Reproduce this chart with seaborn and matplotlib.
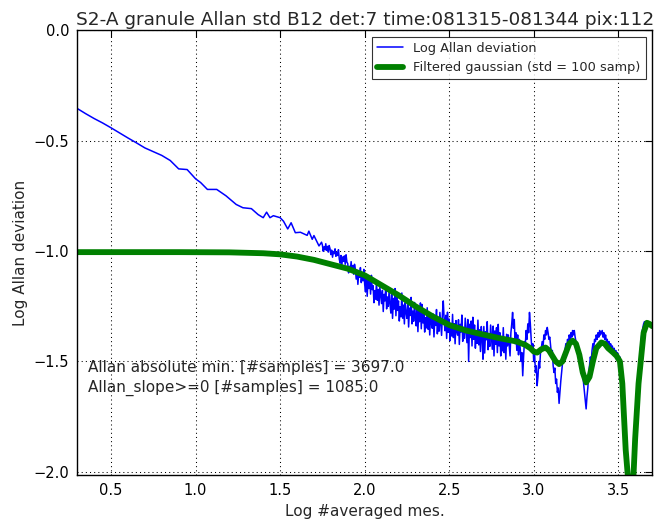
import numpy as np
import pandas as pd
import matplotlib
matplotlib.use("Agg")
import matplotlib.pyplot as plt
import seaborn as sns

# ---- data ----
# smooth (low-N) part of the Allan deviation
blue_x_smooth = [0.301, 0.35, 0.40, 0.45, 0.50, 0.55, 0.60, 0.65, 0.70, 0.75, 0.80, 0.85,
                 0.90, 0.95, 1.00, 1.03, 1.07, 1.125, 1.18, 1.24, 1.28, 1.33, 1.37, 1.40,
                 1.42, 1.44, 1.46, 1.50, 1.52, 1.545, 1.565, 1.59, 1.62, 1.66, 1.67, 1.69,
                 1.70, 1.73, 1.745]
blue_y_smooth = [-0.355, -0.378, -0.40, -0.42, -0.442, -0.465, -0.488, -0.51, -0.533, -0.55,
                 -0.567, -0.59, -0.628, -0.631, -0.673, -0.69, -0.721, -0.721, -0.75, -0.789,
                 -0.804, -0.808, -0.835, -0.849, -0.824, -0.849, -0.84, -0.849, -0.865, -0.90,
                 -0.872, -0.917, -0.915, -0.929, -0.91, -0.947, -0.93, -0.977, -0.96]

# noisy (high-N) part, sampled every 0.005 in log N starting at 1.75
noisy_start = 1.75
noisy_step = 0.005
blue_y_noisy = [
    -0.973, -1.001, -0.981, -0.995, -0.967, -0.997, -0.979, -1.005, -0.975, -0.989,
    -1.016, -0.996, -1.028, -1.002, -1.012, -0.990, -1.024, -1.006, -1.020, -0.994,
    -1.037, -1.055, -1.020, -1.065, -1.027, -1.047, -1.022, -1.060, -1.017, -1.050,
    -1.057, -1.099, -1.069, -1.090, -1.048, -1.093, -1.066, -1.105, -1.060, -1.081,
    -1.127, -1.087, -1.151, -1.099, -1.119, -1.075, -1.143, -1.107, -1.135, -1.083,
    -1.150, -1.185, -1.115, -1.205, -1.130, -1.170, -1.120, -1.195, -1.110, -1.175,
    -1.157, -1.234, -1.179, -1.218, -1.140, -1.223, -1.174, -1.245, -1.163, -1.201,
    -1.238, -1.178, -1.274, -1.196, -1.226, -1.160, -1.262, -1.208, -1.250, -1.172,
    -1.239, -1.281, -1.197, -1.305, -1.215, -1.263, -1.170, -1.293, -1.191, -1.269,
    -1.226, -1.317, -1.252, -1.298, -1.190, -1.304, -1.245, -1.330, -1.233, -1.278,
    -1.305, -1.240, -1.344, -1.259, -1.292, -1.210, -1.330, -1.272, -1.318, -1.233,
    -1.294, -1.339, -1.248, -1.365, -1.268, -1.320, -1.235, -1.352, -1.242, -1.326,
    -1.276, -1.367, -1.302, -1.348, -1.257, -1.354, -1.296, -1.380, -1.283, -1.328,
    -1.350, -1.285, -1.389, -1.304, -1.337, -1.265, -1.375, -1.317, -1.363, -1.278,
    -1.333, -1.382, -1.284, -1.226, -1.305, -1.361, -1.291, -1.396, -1.277, -1.368,
    -1.308, -1.406, -1.336, -1.385, -1.287, -1.392, -1.329, -1.420, -1.315, -1.364,
    -1.381, -1.311, -1.423, -1.332, -1.367, -1.290, -1.409, -1.346, -1.395, -1.304,
    -1.362, -1.415, -1.310, -1.500, -1.332, -1.392, -1.317, -1.430, -1.300, -1.400,
    -1.335, -1.440, -1.365, -1.418, -1.313, -1.425, -1.357, -1.455, -1.342, -1.395,
    -1.490, -1.342, -1.462, -1.365, -1.402, -1.320, -1.447, -1.380, -1.432, -1.335,
    -1.392, -1.445, -1.340, -1.475, -1.362, -1.422, -1.347, -1.460, -1.332, -1.430,
    -1.370, -1.475, -1.400, -1.452, -1.347, -1.460, -1.392, -1.490, -1.377, -1.430,
    -1.380, -1.430, -1.475, -1.370, -1.330, -1.278, -1.350, -1.310, -1.420, -1.370,
    -1.450, -1.380, -1.470, -1.400, -1.440, -1.500, -1.460, -1.565, -1.480, -1.410,
    -1.430, -1.360, -1.400, -1.330, -1.370, -1.278, -1.330, -1.400, -1.450, -1.420,
    -1.500, -1.460, -1.550, -1.520, -1.610, -1.570, -1.500, -1.530, -1.460, -1.440,
    -1.410, -1.440, -1.380, -1.400, -1.360, -1.380, -1.346, -1.370, -1.400, -1.390,
    -1.430, -1.470, -1.450, -1.520, -1.550, -1.530, -1.600, -1.580, -1.640, -1.620,
    -1.690, -1.640, -1.590, -1.550, -1.510, -1.480, -1.500, -1.450, -1.420, -1.440,
    -1.400, -1.420, -1.380, -1.400, -1.370, -1.390, -1.360, -1.380, -1.360, -1.390,
    -1.410, -1.440, -1.430, -1.480, -1.460, -1.520, -1.500, -1.560, -1.550, -1.600,
    -1.640, -1.680, -1.715, -1.660, -1.620, -1.560, -1.520, -1.480, -1.500, -1.450,
    -1.420, -1.440, -1.400, -1.410, -1.380, -1.400, -1.370, -1.390, -1.360, -1.380,
    -1.370, -1.360, -1.390, -1.370, -1.400, -1.380, -1.410, -1.400, -1.430, -1.410,
    -1.440, -1.420, -1.450, -1.430, -1.460, -1.440, -1.470, -1.450, -1.480, -1.460,
    -1.470, -1.500, -1.480, -1.520, -1.550, -1.600, -1.660, -1.750, -1.850, -1.950,
    -2.050, -2.150, -2.250, -2.320, -2.380, -2.400, -2.360, -2.300, -2.200, -2.100,
    -1.950, -1.850, -1.750, -1.660, -1.580, -1.520, -1.460, -1.410, -1.370, -1.350,
    -1.330, -1.320, -1.320, -1.325, -1.330, -1.330, -1.335, -1.335, -1.340, -1.340,
    -1.340,
]

# gaussian-filtered curve
green_x = [0.301, 0.6, 0.9, 1.2, 1.4, 1.5, 1.6, 1.7, 1.8, 1.9, 2.0, 2.1, 2.2, 2.3, 2.4,
           2.5, 2.6, 2.7, 2.8, 2.9, 2.95, 2.98, 3.00, 3.02, 3.045, 3.07, 3.09, 3.11, 3.13,
           3.15, 3.17, 3.19, 3.21, 3.23, 3.25, 3.27, 3.29, 3.31, 3.33, 3.35, 3.37, 3.40,
           3.42, 3.44, 3.47, 3.49, 3.51, 3.524, 3.544, 3.56, 3.575, 3.59, 3.60, 3.62,
           3.65, 3.67, 3.685, 3.70]
green_y = [-1.005, -1.005, -1.005, -1.006, -1.01, -1.015, -1.025, -1.04, -1.06, -1.08,
           -1.11, -1.155, -1.20, -1.25, -1.295, -1.335, -1.36, -1.378, -1.395, -1.41,
           -1.425, -1.44, -1.455, -1.46, -1.445, -1.437, -1.45, -1.475, -1.50, -1.512,
           -1.50, -1.46, -1.42, -1.406, -1.42, -1.47, -1.55, -1.595, -1.57, -1.50,
           -1.44, -1.414, -1.42, -1.44, -1.46, -1.475, -1.50, -1.60, -1.90, -2.05,
           -2.09, -2.02, -1.85, -1.60, -1.37, -1.325, -1.33, -1.34]

title = "S2-A granule Allan std B12 det:7 time:081315-081344 pix:112"
note_lines = ["Allan absolute min. [#samples] = 3697.0",
              "Allan_slope>=0 [#samples] = 1085.0"]

# ---- build tables ----
noisy_x = [noisy_start + noisy_step * i for i in range(len(blue_y_noisy))]
blue_df = pd.DataFrame({"x": blue_x_smooth + noisy_x,
                        "y": blue_y_smooth + blue_y_noisy})
green_df = pd.DataFrame({"x": green_x, "y": green_y})

sns.set_style("white")
plt.rcParams["font.family"] = ["DejaVu Sans"]

fig = plt.figure(figsize=(6.56, 5.21), dpi=100)
ax = fig.add_axes([0.118, 0.088, 0.876, 0.854])

sns.lineplot(data=blue_df, x="x", y="y", ax=ax, color="#0000ff", lw=1.1,
             sort=False, estimator=None, label="Log Allan deviation")
sns.lineplot(data=green_df, x="x", y="y", ax=ax, color="#008000", lw=4.2,
             sort=False, estimator=None, label="Filtered gaussian (std = 100 samp)")

ax.set_xlim(0.301, 3.70)
ax.set_ylim(-2.015, 0.0)
ax.set_xticks([0.5, 1.0, 1.5, 2.0, 2.5, 3.0, 3.5])
ax.set_yticks([0.0, -0.5, -1.0, -1.5, -2.0])
ax.grid(True, linestyle=(0, (1, 3)), color="black", linewidth=0.75)
ax.set_axisbelow(True)
for s in ax.spines.values():
    s.set_color("black")
    s.set_linewidth(1.0)
ax.tick_params(direction="in", length=5, width=0.8, top=True, right=True,
               labelsize=10.5, pad=6, colors="black")
ax.set_xlabel("Log #averaged mes.", fontsize=11)
ax.set_ylabel("Log Allan deviation", fontsize=11)
ax.set_title(title, fontsize=13.3, pad=4)

ax.text(0.019, 0.243, note_lines[0], transform=ax.transAxes, fontsize=11,
        va="center", ha="left")
ax.text(0.019, 0.196, note_lines[1], transform=ax.transAxes, fontsize=11,
        va="center", ha="left")

leg = ax.legend(loc="upper right", fontsize=9.3, frameon=True, fancybox=False,
                borderaxespad=0.5, handlelength=2.0)
leg.get_frame().set_edgecolor("black")
leg.get_frame().set_linewidth(0.8)

fig.savefig("out.png", dpi=100)
